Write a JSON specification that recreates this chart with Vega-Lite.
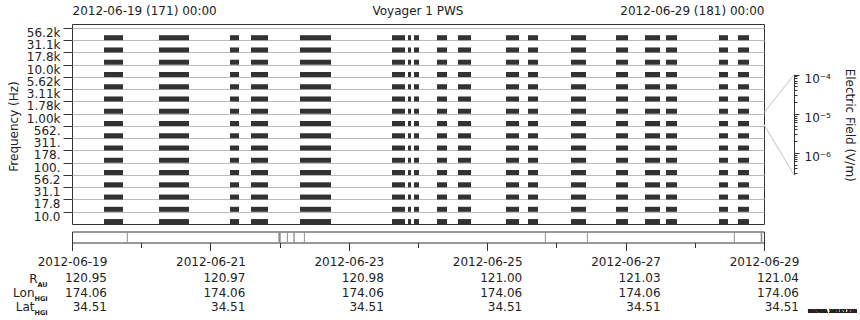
{
  "$schema": "https://vega.github.io/schema/vega-lite/v6.json",
  "padding": {"left": 6, "top": 3, "right": 0, "bottom": 0},
  "background": "white",
  "bounds": "flush",
  "spacing": 7.5,
  "config": {
    "font": "DejaVu Sans",
    "view": {"stroke": "#333333", "strokeWidth": 1},
    "axis": {"labelFont": "DejaVu Sans", "titleFont": "DejaVu Sans", "labelColor": "#222222", "titleColor": "#222222", "tickColor": "#333333", "domainColor": "#333333", "labelFontSize": 12, "titleFontSize": 12, "titleFontWeight": "normal", "grid": false},
    "title": {"font": "DejaVu Sans", "fontSize": 12, "fontWeight": "normal", "color": "#222222"}
  },
  "resolve": {"scale": {"x": "independent", "y": "independent"}},
  "vconcat": [
    {
      "width": 692,
      "height": 200,
      "title": {"text": "Voyager 1 PWS", "offset": -26, "anchor": "middle", "frame": "group", "baseline": "bottom"},
      "layer": [
        {
          "data": {"values": [
            {"s": "2012-06-19T11:06:00Z", "e": "2012-06-19T17:41:00Z", "f": ["56.2k","31.1k","17.8k","10.0k","5.62k","3.11k","1.78k","1.00k","562.","311.","178.","100.","56.2","31.1","17.8","10.0"]},
            {"s": "2012-06-20T06:11:00Z", "e": "2012-06-20T16:35:00Z", "f": ["56.2k","31.1k","17.8k","10.0k","5.62k","3.11k","1.78k","1.00k","562.","311.","178.","100.","56.2","31.1","17.8","10.0"]},
            {"s": "2012-06-21T06:48:00Z", "e": "2012-06-21T09:55:00Z", "f": ["56.2k","31.1k","17.8k","10.0k","5.62k","3.11k","1.78k","1.00k","562.","311.","178.","100.","56.2","31.1","17.8","10.0"]},
            {"s": "2012-06-21T14:05:00Z", "e": "2012-06-21T19:59:00Z", "f": ["56.2k","31.1k","17.8k","10.0k","5.62k","3.11k","1.78k","1.00k","562.","311.","178.","100.","56.2","31.1","17.8","10.0"]},
            {"s": "2012-06-22T07:05:00Z", "e": "2012-06-22T17:50:00Z", "f": ["56.2k","31.1k","17.8k","10.0k","5.62k","3.11k","1.78k","1.00k","562.","311.","178.","100.","56.2","31.1","17.8","10.0"]},
            {"s": "2012-06-23T14:59:00Z", "e": "2012-06-23T19:29:00Z", "f": ["56.2k","31.1k","17.8k","10.0k","5.62k","3.11k","1.78k","1.00k","562.","311.","178.","100.","56.2","31.1","17.8","10.0"]},
            {"s": "2012-06-23T20:32:00Z", "e": "2012-06-23T21:34:00Z", "f": ["56.2k","31.1k","17.8k","10.0k","5.62k","3.11k","1.78k","1.00k","562.","311.","178.","100.","56.2","31.1","17.8","10.0"]},
            {"s": "2012-06-23T22:37:00Z", "e": "2012-06-24T00:21:00Z", "f": ["56.2k","31.1k","17.8k","10.0k","5.62k","3.11k","1.78k","1.00k","562.","311.","178.","100.","56.2","31.1","17.8","10.0"]},
            {"s": "2012-06-24T06:35:00Z", "e": "2012-06-24T10:04:00Z", "f": ["56.2k","31.1k","17.8k","10.0k","5.62k","3.11k","1.78k","1.00k","562.","311.","178.","100.","56.2","31.1","17.8","10.0"]},
            {"s": "2012-06-24T13:52:00Z", "e": "2012-06-24T18:23:00Z", "f": ["56.2k","31.1k","17.8k","10.0k","5.62k","3.11k","1.78k","1.00k","562.","311.","178.","100.","56.2","31.1","17.8","10.0"]},
            {"s": "2012-06-25T06:31:00Z", "e": "2012-06-25T11:02:00Z", "f": ["56.2k","31.1k","17.8k","10.0k","5.62k","3.11k","1.78k","1.00k","562.","311.","178.","100.","56.2","31.1","17.8","10.0"]},
            {"s": "2012-06-25T14:09:00Z", "e": "2012-06-25T17:37:00Z", "f": ["56.2k","31.1k","17.8k","10.0k","5.62k","3.11k","1.78k","1.00k","562.","311.","178.","100.","56.2","31.1","17.8","10.0"]},
            {"s": "2012-06-26T05:04:00Z", "e": "2012-06-26T10:16:00Z", "f": ["56.2k","31.1k","17.8k","10.0k","5.62k","3.11k","1.78k","1.00k","562.","311.","178.","100.","56.2","31.1","17.8","10.0"]},
            {"s": "2012-06-26T20:40:00Z", "e": "2012-06-27T00:50:00Z", "f": ["56.2k","31.1k","17.8k","10.0k","5.62k","3.11k","1.78k","1.00k","562.","311.","178.","100.","56.2","31.1","17.8","10.0"]},
            {"s": "2012-06-27T06:44:00Z", "e": "2012-06-27T11:56:00Z", "f": ["56.2k","31.1k","17.8k","10.0k","5.62k","3.11k","1.78k","1.00k","562.","311.","178.","100.","56.2","31.1","17.8","10.0"]},
            {"s": "2012-06-27T14:01:00Z", "e": "2012-06-27T17:50:00Z", "f": ["56.2k","31.1k","17.8k","10.0k","5.62k","3.11k","1.78k","1.00k","562.","311.","178.","100.","56.2","31.1","17.8","10.0"]},
            {"s": "2012-06-28T08:23:00Z", "e": "2012-06-28T11:31:00Z", "f": ["56.2k","31.1k","17.8k","10.0k","5.62k","3.11k","1.78k","1.00k","562.","311.","178.","100.","56.2","31.1","17.8","10.0"]},
            {"s": "2012-06-28T14:59:00Z", "e": "2012-06-28T18:48:00Z", "f": ["56.2k","31.1k","17.8k","10.0k","5.62k","3.11k","1.78k","1.00k","562.","311.","178.","100.","56.2","31.1","17.8","10.0"]}
          ]},
          "transform": [{"flatten": ["f"]}],
          "mark": {"type": "rule", "color": "#323232", "strokeWidth": 5, "strokeCap": "butt"},
          "encoding": {
            "x": {
              "field": "s", "type": "temporal",
              "scale": {"type": "utc", "domain": [{"year": 2012, "month": 6, "date": 19, "utc": true}, {"year": 2012, "month": 6, "date": 29, "utc": true}], "nice": false},
              "axis": {"orient": "top", "title": null, "values": [{"year": 2012, "month": 6, "date": 19, "utc": true}, {"year": 2012, "month": 6, "date": 29, "utc": true}], "labelExpr": "utcFormat(datum.value, '%Y-%m-%d (%j) %H:%M')", "labelFlush": true, "labelOverlap": false, "ticks": false, "domain": false, "labelPadding": 7, "grid": false}
            },
            "x2": {"field": "e"},
            "y": {
              "field": "f", "type": "nominal", "bandPosition": 0.8,
              "scale": {"type": "band", "domain": ["56.2k","31.1k","17.8k","10.0k","5.62k","3.11k","1.78k","1.00k","562.","311.","178.","100.","56.2","31.1","17.8","10.0"], "range": [3.9, 200], "paddingInner": 0, "paddingOuter": 0},
              "axis": {"title": "Frequency (Hz)", "tickOffset": -6.13, "tickSize": 9, "labelPadding": 3, "labelOffset": 4.5, "grid": true, "gridColor": "#bababa", "gridWidth": 1, "domain": false, "titlePadding": 6, "labelOverlap": false}
            }
          }
        },
        {
          "data": {"values": [
            {"b": "upper", "px": 0, "ef": 1.064e-5},
            {"b": "upper", "px": 1, "ef": 1e-4},
            {"b": "lower", "px": 0, "ef": 5.25e-6},
            {"b": "lower", "px": 1, "ef": 2.75e-7}
          ]},
          "mark": {"type": "line", "color": "#c4c4c4", "strokeWidth": 1},
          "encoding": {
            "x": {"field": "px", "type": "quantitative", "scale": {"domain": [0, 1], "range": [692, 722]}, "axis": null},
            "y": {
              "field": "ef", "type": "quantitative",
              "scale": {"type": "log", "domain": [2.75e-7, 1e-4], "range": [150.7, 50.7]},
              "axis": {
                "orient": "right", "offset": 30, "title": "Electric Field (V/m)", "titlePadding": 12,
                "values": [0.0001, 0.00009, 0.00008, 0.00007, 0.00006, 0.00005, 0.00004, 0.00003, 0.00002, 0.00001, 0.000009, 0.000008, 0.000007, 0.000006, 0.000005, 0.000004, 0.000003, 0.000002, 0.000001, 0.0000009, 0.0000008, 0.0000007, 0.0000006, 0.0000005, 0.0000004, 0.0000003],
                "labelExpr": "datum.value == 0.0001 ? '10⁻⁴' : datum.value == 0.00001 ? '10⁻⁵' : datum.value == 0.000001 ? '10⁻⁶' : ''",
                "tickSize": {"condition": {"test": "datum.value == 0.0001 || datum.value == 0.00001 || datum.value == 0.000001", "value": 5}, "value": 3},
                "labelPadding": 5, "labelOffset": 4, "labelOverlap": false, "labelFlush": false, "grid": false, "domain": true
              }
            },
            "detail": {"field": "b"}
          }
        }
      ],
      "resolve": {"scale": {"x": "independent", "y": "independent"}, "axis": {"x": "independent", "y": "independent"}}
    },
    {
      "width": 692,
      "height": 11,
      "data": {"values": [
        {"s": "2012-06-19T19:01:00Z", "e": "2012-06-19T19:22:00Z"},
        {"s": "2012-06-21T23:34:00Z", "e": "2012-06-22T00:23:00Z"},
        {"s": "2012-06-22T02:31:00Z", "e": "2012-06-22T02:52:00Z"},
        {"s": "2012-06-22T04:46:00Z", "e": "2012-06-22T05:15:00Z"},
        {"s": "2012-06-22T08:25:00Z", "e": "2012-06-22T08:46:00Z"},
        {"s": "2012-06-25T20:00:00Z", "e": "2012-06-25T20:21:00Z"},
        {"s": "2012-06-26T10:34:00Z", "e": "2012-06-26T10:55:00Z"},
        {"s": "2012-06-28T13:32:00Z", "e": "2012-06-28T13:53:00Z"},
        {"s": "2012-06-28T22:51:00Z", "e": "2012-06-28T23:25:00Z"}
      ]},
      "mark": {"type": "rect", "color": "#8f8f8f"},
      "encoding": {
        "x": {
          "field": "s", "type": "temporal",
          "scale": {"type": "utc", "domain": [{"year": 2012, "month": 6, "date": 19, "utc": true}, {"year": 2012, "month": 6, "date": 29, "utc": true}], "nice": false},
          "axis": {"orient": "bottom", "title": null, "tickCount": {"interval": "day", "step": 1}, "labelExpr": "utcdate(datum.value) % 2 == 1 ? utcFormat(datum.value, '%Y-%m-%d') : ''", "tickSize": {"condition": {"test": "utcdate(datum.value) % 2 == 1", "value": 8}, "value": 5}, "labelPadding": 6, "labelFlush": false, "labelOverlap": false, "domain": false, "grid": false}
        },
        "x2": {"field": "e"}
      }
    },
    {
      "width": 692,
      "height": 63,
      "view": {"stroke": null},
      "data": {"values": [
        {"t": "2012-06-19T00:00:00Z", "row": "R_AU", "v": 120.95},
        {"t": "2012-06-21T00:00:00Z", "row": "R_AU", "v": 120.97},
        {"t": "2012-06-23T00:00:00Z", "row": "R_AU", "v": 120.98},
        {"t": "2012-06-25T00:00:00Z", "row": "R_AU", "v": 121.00},
        {"t": "2012-06-27T00:00:00Z", "row": "R_AU", "v": 121.03},
        {"t": "2012-06-29T00:00:00Z", "row": "R_AU", "v": 121.04},
        {"t": "2012-06-19T00:00:00Z", "row": "Lon_HGI", "v": 174.06},
        {"t": "2012-06-21T00:00:00Z", "row": "Lon_HGI", "v": 174.06},
        {"t": "2012-06-23T00:00:00Z", "row": "Lon_HGI", "v": 174.06},
        {"t": "2012-06-25T00:00:00Z", "row": "Lon_HGI", "v": 174.06},
        {"t": "2012-06-27T00:00:00Z", "row": "Lon_HGI", "v": 174.06},
        {"t": "2012-06-29T00:00:00Z", "row": "Lon_HGI", "v": 174.06},
        {"t": "2012-06-19T00:00:00Z", "row": "Lat_HGI", "v": 34.51},
        {"t": "2012-06-21T00:00:00Z", "row": "Lat_HGI", "v": 34.51},
        {"t": "2012-06-23T00:00:00Z", "row": "Lat_HGI", "v": 34.51},
        {"t": "2012-06-25T00:00:00Z", "row": "Lat_HGI", "v": 34.51},
        {"t": "2012-06-27T00:00:00Z", "row": "Lat_HGI", "v": 34.51},
        {"t": "2012-06-29T00:00:00Z", "row": "Lat_HGI", "v": 34.51}
      ]},
      "layer": [
        {
          "mark": {"type": "text", "align": "right", "dx": 35, "baseline": "middle", "fontSize": 12, "color": "#222222"},
          "encoding": {
            "x": {"field": "t", "type": "temporal", "scale": {"type": "utc", "domain": [{"year": 2012, "month": 6, "date": 19, "utc": true}, {"year": 2012, "month": 6, "date": 29, "utc": true}], "nice": false}, "axis": null},
            "y": {"field": "row", "type": "nominal", "scale": {"type": "point", "domain": ["R_AU", "Lon_HGI", "Lat_HGI"], "range": [28.2, 56.8], "padding": 0},
                  "axis": {"orient": "left", "title": null, "ticks": false, "domain": false, "labelExpr": "split(datum.label, '_')[0]", "labelPadding": {"condition": {"test": "datum.value == 'R_AU'", "value": 35}, "value": 38}, "labelFontSize": 12}},
            "text": {"field": "v", "type": "quantitative", "format": ".2f"}
          }
        },
        {
          "mark": {"type": "text", "opacity": 0},
          "encoding": {
            "x": {"field": "t", "type": "temporal", "axis": null},
            "y": {"field": "row", "type": "nominal",
                  "axis": {"orient": "left", "title": null, "ticks": false, "domain": false, "labelExpr": "split(datum.label, '_')[1]", "labelAlign": "left", "labelPadding": {"condition": {"test": "datum.value == 'R_AU'", "value": 35}, "value": 38}, "labelFontSize": 6.5, "labelFontWeight": "bold", "labelOffset": 6}},
            "text": {"field": "v", "type": "quantitative", "format": ".2f"}
          }
        },
        {
          "mark": {"type": "text", "text": "UIOWA 20151220", "align": "left", "baseline": "middle", "dx": 44, "dy": 4, "fontSize": 5, "fontWeight": "bold", "color": "#222222"},
          "encoding": {
            "x": {"datum": {"year": 2012, "month": 6, "date": 29, "utc": true}, "type": "temporal"},
            "y": {"datum": "Lat_HGI", "type": "nominal", "axis": null}
          }
        }
      ],
      "resolve": {"axis": {"y": "independent"}}
    }
  ]
}
